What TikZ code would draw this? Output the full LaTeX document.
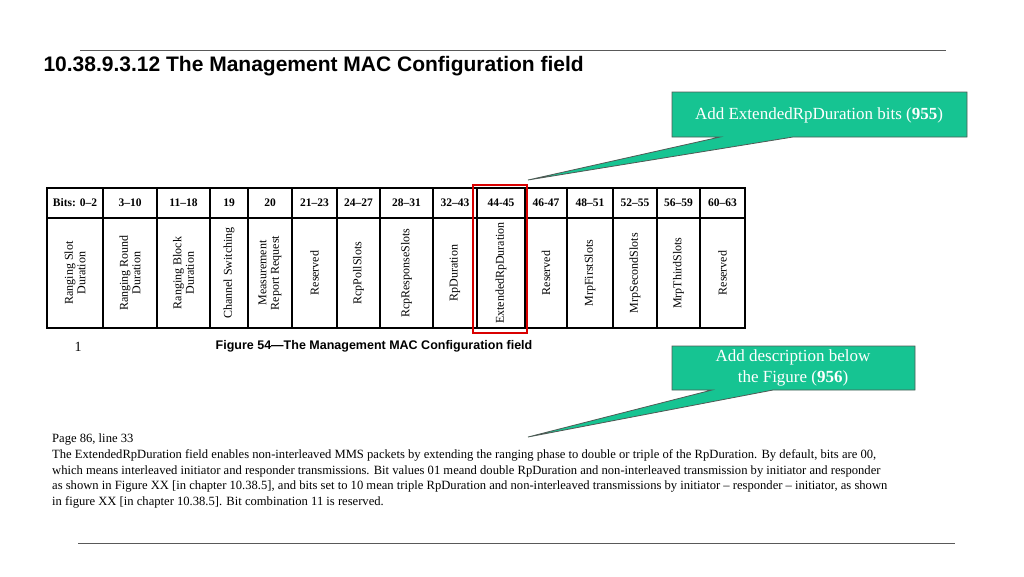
\documentclass[tikz,border=0pt]{standalone}
\usepackage{fontspec}
\setmainfont{Liberation Serif}
\newfontfamily\arialf{Liberation Sans}
\definecolor{callg}{RGB}{22,196,146}
\definecolor{callb}{RGB}{80,90,85}
\begin{document}
\begin{tikzpicture}[x=1pt,y=-1pt,
  hdr/.style={font=\fontsize{11.5}{12}\selectfont\bfseries,anchor=center},
  vtx/.style={font=\fontsize{12}{12.5}\selectfont,rotate=90,align=center,anchor=center},
  calltxt/.style={font=\fontsize{17}{24}\selectfont,text=white,align=center,anchor=center}]
\useasboundingbox (0,0) rectangle (1024,576);
\draw[gray!70!black,line width=0.8pt] (80,50) -- (946,50);
\draw[gray!70!black,line width=0.8pt] (78,543) -- (955,543);
\node[anchor=west,font=\arialf\fontsize{21}{24}\selectfont\bfseries] (title) at (40,66) {10.38.9.3.12 The Management MAC Configuration field};
% table
\draw[line width=2.5pt] (47,188) rectangle (745,328);
\draw[line width=2.5pt] (47,218) -- (745,218);
\foreach \xx in {103,157,210,248,292,337,380,433,477,525,567,613,657,700}{
  \draw[line width=2.5pt] (\xx,188) -- (\xx,328);
}
\foreach \i/\a/\b/\h/\v in {0/47/103/{Bits: 0–2}/{Ranging Slot\\Duration},1/103/157/{3–10}/{Ranging Round\\Duration},2/157/210/{11–18}/{Ranging Block\\Duration},3/210/248/{19}/{Channel Switching},4/248/292/{20}/{Measurement\\Report Request},5/292/337/{21–23}/{Reserved},6/337/380/{24–27}/{RcpPollSlots},7/380/433/{28–31}/{RcpResponseSlots},8/433/477/{32–43}/{RpDuration},9/477/525/{44-45}/{ExtendedRpDuration},10/525/567/{46-47}/{Reserved},11/567/613/{48–51}/{MrpFirstSlots},12/613/657/{52–55}/{MrpSecondSlots},13/657/700/{56–59}/{MrpThirdSlots},14/700/745/{60–63}/{Reserved}}{
  \node[hdr] (h\i) at ({(\a+\b)/2},203) {\h};
  \node[vtx] (v\i) at ({(\a+\b)/2},273) {\v};
}
\draw[red!85!black,line width=2pt] (473,185) rectangle (527,333);
\node[font=\fontsize{14}{14}\selectfont] (one) at (78,347) {1};
\node[font=\arialf\fontsize{12.5}{14}\selectfont\bfseries] (cap) at (374,346) {Figure 54—The Management MAC Configuration field};
% callouts
\draw[fill=callg,draw=callb,line width=0.8pt] (672,92) -- (967,92) -- (967,137) -- (793,137) -- (528,180) -- (720,137) -- (672,137) -- cycle;
\node[calltxt] (c1) at (819,115) {Add ExtendedRpDuration bits (\textbf{955})};
\draw[fill=callg,draw=callb,line width=0.8pt] (672,346) -- (915,346) -- (915,390) -- (773,390) -- (528,437) -- (712,390) -- (672,390) -- cycle;
\node[calltxt,font=\fontsize{17}{21}\selectfont] (c2) at (793,368) {Add description below\\the Figure (\textbf{956})};
\node[anchor=north west,align=left,font=\fontsize{12.6}{15.6}\selectfont,inner sep=0pt] (body) at (52,434) {Page 86, line 33\\
The ExtendedRpDuration field enables non-interleaved MMS packets by extending the ranging phase to double or triple of the RpDuration. By default, bits are 00,\\
which means interleaved initiator and responder transmissions. Bit values 01 meand double RpDuration and non-interleaved transmission by initiator and responder\\
as shown in Figure XX [in chapter 10.38.5], and bits set to 10 mean triple RpDuration and non-interleaved transmissions by initiator – responder – initiator, as shown\\
in figure XX [in chapter 10.38.5]. Bit combination 11 is reserved.};
\end{tikzpicture}
\end{document}
